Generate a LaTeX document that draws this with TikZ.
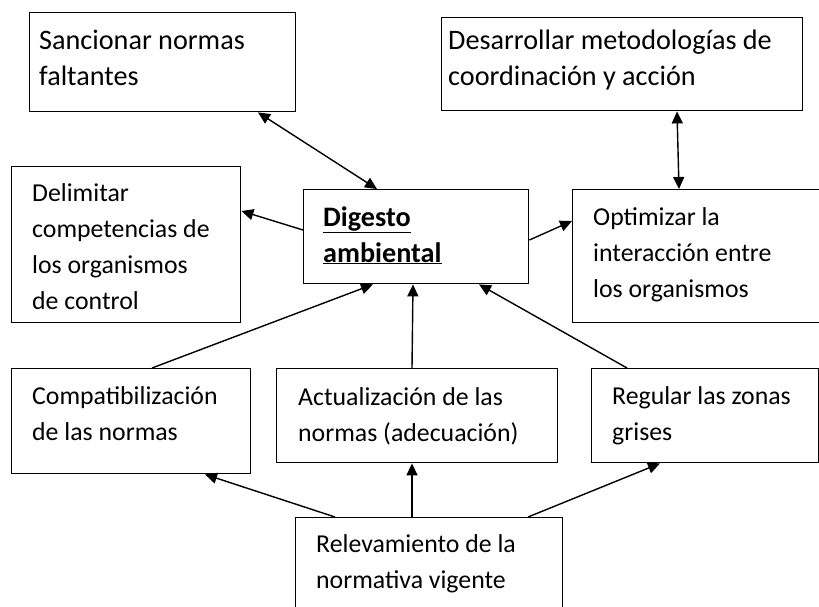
\documentclass[tikz,border=0pt]{standalone}
\usepackage{fontspec}
\setmainfont{Carlito}
\usetikzlibrary{arrows.meta,positioning,calc}

\begin{document}
\begin{tikzpicture}[
  x=1pt, y=-1pt,
  box/.style={draw, rectangle, line width=1.4pt, inner sep=0pt, anchor=north west},
  txt/.style={anchor=base west, align=left, inner sep=0pt,
    font=\fontsize{25.8}{36}\selectfont},
  bigtxt/.style={txt, font=\fontsize{28.2}{36}\selectfont},
  arr/.style={-{Triangle[length=12pt,width=11pt]}, line width=1.4pt},
  dbl/.style={{Triangle[length=12pt,width=11pt]}-{Triangle[length=12pt,width=11pt]}, line width=1.4pt}]
\useasboundingbox (0,0) rectangle (819,606);
% cajas
\node[box, minimum width=266pt, minimum height=99pt] (sanc) at (29,12) {};
\node[box, minimum width=361pt, minimum height=93pt] (desa) at (441,17) {};
\node[box, minimum width=229pt, minimum height=156pt] (deli) at (11,166) {};
\node[box, minimum width=225pt, minimum height=94pt] (dig) at (303,189) {};
\node[box, minimum width=253pt, minimum height=133pt] (opt) at (572,189) {};
\node[box, minimum width=239pt, minimum height=105pt] (comp) at (11,368) {};
\node[box, minimum width=281pt, minimum height=94pt] (actu) at (276,368) {};
\node[box, minimum width=227pt, minimum height=94pt] (regu) at (591,368) {};
\node[box, minimum width=267pt, minimum height=110pt] (rele) at (295,517) {};
% textos (anclados en la linea base de la ultima linea)
\node[bigtxt] (sanc-t) at (39,85) {Sancionar normas\\faltantes};
\node[bigtxt] (desa-t) at (448,85) {Desarrollar metodologías de\\coordinación y acción};
\node[txt] (deli-t) at (32,309) {Delimitar\\competencias de\\los organismos\\de control};
\node[bigtxt] (dig-t) at (323,262) {\textbf{\underline{Digesto}}\\\textbf{\underline{ambiental}}};
\node[txt] (opt-t) at (593,297) {Optimizar la\\interacción entre\\los organismos};
\node[txt] (comp-t) at (32,440) {Compatibilización\\de las normas};
\node[txt] (actu-t) at (298,441) {Actualización de las\\normas (adecuación)};
\node[txt] (regu-t) at (612,440) {Regular las zonas\\grises};
\node[txt] (rele-t) at (316,588) {Relevamiento de la\\normativa vigente};
% flechas
\draw[dbl] ([xshift=229pt]sanc.south west) -- ([xshift=74pt]dig.north west);
\draw[dbl] ([xshift=236pt]desa.south west) -- ([xshift=107pt]opt.north west);
\draw[arr] ([yshift=-41pt]dig.north west) -- ([yshift=-45pt]deli.north east);
\draw[arr] ([yshift=-51pt]dig.north east) -- ([yshift=-32pt]opt.north west);
\draw[arr] ([xshift=141pt]comp.north west) -- ([xshift=70pt]dig.south west);
\draw[arr] ([xshift=136pt]actu.north west) -- ([xshift=110pt]dig.south west);
\draw[arr] ([xshift=36pt]regu.north west) -- ([xshift=176pt]dig.south west);
\draw[arr] ([xshift=40pt]rele.north west) -- ([xshift=194pt]comp.south west);
\draw[arr] ([xshift=117pt]rele.north west) -- ([xshift=136pt]actu.south west);
\draw[arr] ([xshift=233pt]rele.north west) -- ([xshift=69pt]regu.south west);
\end{tikzpicture}
\end{document}
